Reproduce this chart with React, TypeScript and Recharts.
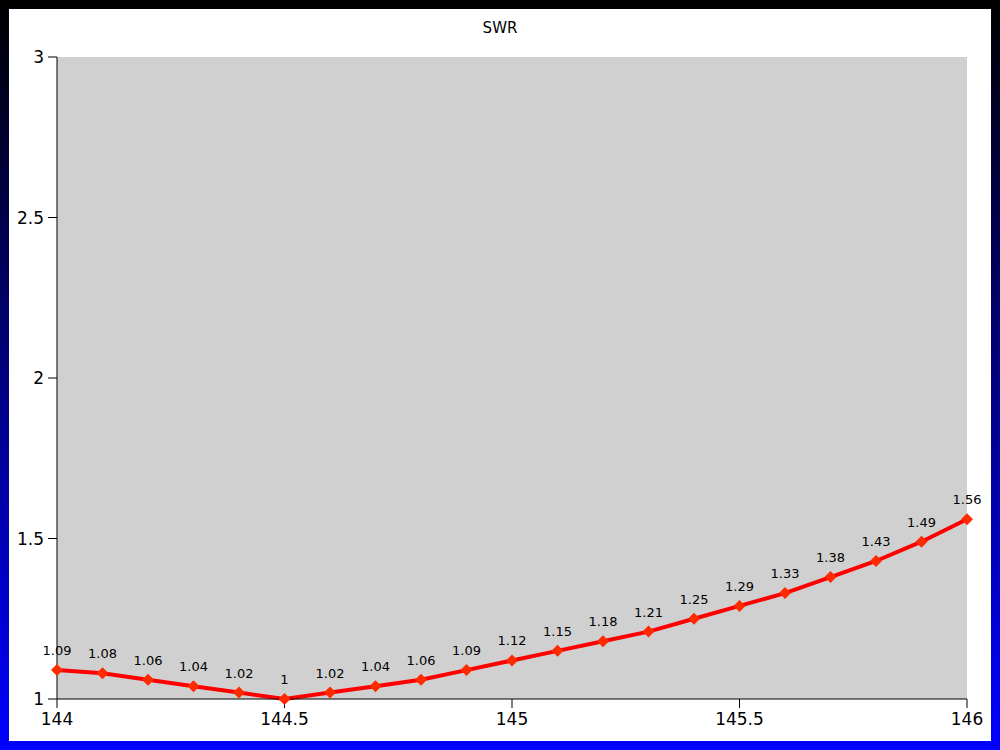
import { LineChart, Line, XAxis, YAxis, CartesianGrid, LabelList } from 'recharts';

const frequencies = [
  144, 144.1, 144.2, 144.3, 144.4, 144.5, 144.6, 144.7, 144.8, 144.9, 145,
  145.1, 145.2, 145.3, 145.4, 145.5, 145.6, 145.7, 145.8, 145.9, 146,
];
const swrValues = [
  1.09, 1.08, 1.06, 1.04, 1.02, 1, 1.02, 1.04, 1.06, 1.09, 1.12,
  1.15, 1.18, 1.21, 1.25, 1.29, 1.33, 1.38, 1.43, 1.49, 1.56,
];
const xTicks = [144, 144.5, 145, 145.5, 146];
const yTicks = [1, 1.5, 2, 2.5, 3];

const data = frequencies.map((f, i) => ({ freq: f, swr: swrValues[i] }));

const FONT = '"DejaVu Sans", Verdana, sans-serif';

function Diamond(props: any) {
  const { cx, cy } = props;
  if (cx == null || cy == null) return null;
  const r = 6;
  return (
    <polygon
      points={`${cx},${cy - r} ${cx + r},${cy} ${cx},${cy + r} ${cx - r},${cy}`}
      fill="#ff2a00"
    />
  );
}

export default function App() {
  return (
    <div
      style={{
        position: 'fixed',
        left: 0,
        top: 0,
        width: 1000,
        height: 750,
        background: 'linear-gradient(#000000, #0000ff)',
        fontFamily: FONT,
      }}
    >
      <div style={{ position: 'absolute', left: 9, top: 9, width: 982, height: 732, background: '#ffffff' }}>
        <div
          style={{
            position: 'absolute',
            left: 0,
            top: 10,
            width: 982,
            textAlign: 'center',
            fontSize: 15,
            color: '#000',
          }}
        >
          SWR
        </div>
        <LineChart
          width={982}
          height={732}
          data={data}
          margin={{ top: 48, right: 24, bottom: 0, left: 0 }}
          style={{ position: 'absolute', left: 0, top: 0 }}
        >
          <CartesianGrid fill="#d0d0d0" stroke="none" horizontal={false} vertical={false} />
          <XAxis
            dataKey="freq"
            type="number"
            domain={[144, 146]}
            ticks={xTicks}
            height={42}
            tickSize={9}
            tickMargin={5}
            stroke="#000"
            tick={{ fill: '#000', fontSize: 17, fontFamily: FONT }}
          />
          <YAxis
            type="number"
            domain={[1, 3]}
            ticks={yTicks}
            width={48}
            tickSize={9}
            tickMargin={4}
            stroke="#000"
            tick={{ fill: '#000', fontSize: 17, fontFamily: FONT }}
          />
          <Line
            dataKey="swr"
            stroke="#ff0000"
            strokeWidth={4}
            dot={<Diamond />}
            activeDot={false}
            isAnimationActive={false}
          >
            <LabelList
              dataKey="swr"
              position="top"
              offset={15}
              style={{ fill: '#000', fontSize: 13, fontFamily: FONT }}
            />
          </Line>
        </LineChart>
      </div>
    </div>
  );
}
